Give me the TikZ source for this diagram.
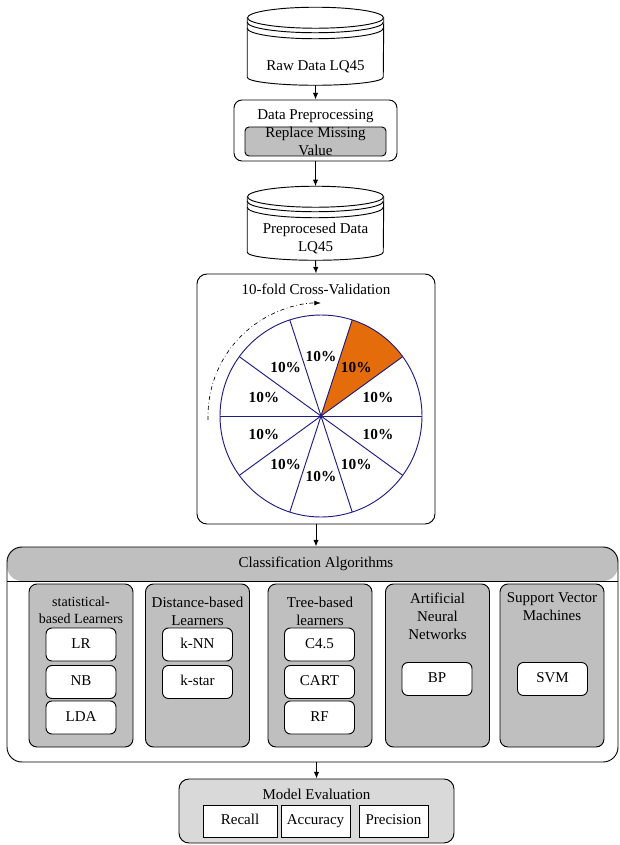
\documentclass[tikz,border=0pt]{standalone}
\usepackage{fontspec}
\setmainfont{Liberation Serif}
\usetikzlibrary{arrows.meta}

\definecolor{boxgray}{HTML}{BFBFBF}
\definecolor{evalgray}{HTML}{D9D9D9}
\definecolor{pienavy}{HTML}{1C1C82}
\definecolor{pieorange}{HTML}{E46C0A}

\tikzset{
  edgeline/.style={line width=0.7pt},
  flow/.style={line width=0.7pt, -{Latex[length=5pt,width=4pt]}},
  dbbody/.style={minimum width=102pt, inner sep=0pt},
  roundbox/.style={draw, line width=0.7pt, rounded corners=6pt},
  groupbox/.style={roundbox, fill=boxgray, minimum width=78pt, minimum height=122.25pt},
  algobox/.style={roundbox, fill=white, rounded corners=4.5pt, minimum width=52.5pt, minimum height=24.75pt,
    text height=8pt, text depth=2.5pt},
  metricbox/.style={draw, line width=0.7pt, fill=white, minimum height=24pt, text height=8pt, text depth=2.5pt},
  pct/.style={font=\fontsize{11.5}{13.5}\selectfont\bfseries},
  pieline/.style={draw=pienavy, line width=0.7pt},
}

% database drum round a body node
\newcommand\dbdrum[1]{%
  \draw[edgeline, fill=white] (#1.north west) -- (#1.south west)
    arc[start angle=180, end angle=360, x radius=51pt, y radius=6pt]
    -- (#1.north east);
  \draw[edgeline, fill=white] (#1.north) ellipse[x radius=51pt, y radius=7.875pt];
  \draw[edgeline] ([yshift=-3.375pt]#1.north west)
    arc[start angle=180, end angle=360, x radius=51pt, y radius=7.875pt];
  \draw[edgeline] ([yshift=-7.875pt]#1.north west)
    arc[start angle=180, end angle=360, x radius=51pt, y radius=7.875pt];
}

\begin{document}
\begin{tikzpicture}[x=0.75pt, y=-0.75pt, font=\fontsize{11.25}{13.5}\selectfont]
\useasboundingbox (0,0) rectangle (619,845);

% data sources
\node[dbbody, minimum height=44.25pt] (raw) at (315.5,47.5) {};
\dbdrum{raw}
\node (rawtext) at (315.5,67) {Raw Data LQ45};

\node[roundbox, minimum width=122.25pt, minimum height=45.75pt] (prep) at (315.5,130.5) {};
\node (preptitle) at (315.5,116) {Data Preprocessing};
\node[roundbox, fill=boxgray, rounded corners=3pt, minimum width=105.75pt, minimum height=21.75pt] (missing) at (315.5,141.5) {};
\node[align=center, inner sep=0pt] (missingtext) at (315.5,141.5) {Replace Missing\\Value};

\node[dbbody, minimum height=41.25pt] (pre) at (315.5,224.5) {};
\dbdrum{pre}
\node[align=center] (pretext) at (315.5,238.5) {Preprocesed Data\\LQ45};

% cross validation
\node[roundbox, rounded corners=7.5pt, minimum width=178.5pt, minimum height=187.5pt] (cv) at (316,399) {};
\node (cvtitle) at (316,289) {10-fold Cross-Validation};
\begin{scope}[shift={(321,416)}]
  \fill[pieorange] (0,0) -- (36:75.75pt) arc[start angle=36, end angle=72, radius=75.75pt] -- cycle;
  \draw[pieline] (0,0) circle[radius=75.75pt];
  \foreach \a in {0,36,...,324}
    \draw[pieline] (0,0) -- (\a:75.75pt);
  \fill[pienavy] (0,0) circle[radius=1.4pt];
  \foreach \a in {18,54,...,342}
    \node[pct] (pct\a) at (\a:45pt) {10\%};
  \draw[line width=0.5pt, dash dot, -{Latex[length=5pt,width=3.5pt]}] (182:84.75pt)
    arc[start angle=182, end angle=90, radius=84.75pt];
\end{scope}

% classifiers
\node[draw, line width=0.7pt, rounded corners=11.25pt, minimum width=458.25pt, minimum height=161.25pt,
  path picture={
    \fill[boxgray] (path picture bounding box.north west) rectangle ([yshift=-25.5pt]path picture bounding box.north east);
    \draw[edgeline] ([yshift=-25.5pt]path picture bounding box.north west) -- ([yshift=-25.5pt]path picture bounding box.north east);
  }] (algo) at (312.5,654.5) {};
\node (algotitle) at (316,564) {Classification Algorithms};

\node[groupbox] (stat) at (81,665.5) {};
\node[align=center, font=\fontsize{10.5}{12.5}\selectfont] (stattitle) at (81,610) {statistical-\\based Learners};
\node[algobox] (lr) at (81,644.5) {LR};
\node[algobox] (nb) at (81,682) {NB};
\node[algobox] (lda) at (81,717.5) {LDA};

\node[groupbox] (dist) at (197.5,665.5) {};
\node[align=center] (disttitle) at (197.5,611) {Distance-based\\Learners};
\node[algobox] (knn) at (197.5,644.5) {k-NN};
\node[algobox] (kstar) at (197.5,682) {k-star};

\node[groupbox] (tree) at (320,665.5) {};
\node[align=center] (treetitle) at (320,611) {Tree-based\\learners};
\node[algobox] (ctree) at (319.5,644.5) {C4.5};
\node[algobox] (cart) at (319.5,682) {CART};
\node[algobox] (rf) at (319.5,717.5) {RF};

\node[groupbox] (ann) at (437.5,665.5) {};
\node[align=center] (anntitle) at (437.5,616) {Artificial\\Neural\\Networks};
\node[algobox] (bp) at (437,679) {BP};

\node[groupbox] (svmgroup) at (552,665.5) {};
\node[align=center] (svmtitle) at (552,607) {Support Vector\\Machines};
\node[algobox] (svm) at (552.5,679) {SVM};

% evaluation
\node[roundbox, fill=evalgray, rounded corners=7.5pt, minimum width=206.25pt, minimum height=48pt] (eval) at (316.5,811) {};
\node (evaltitle) at (316.5,794) {Model Evaluation};
\node[metricbox, minimum width=55.5pt] (recall) at (240,821) {Recall};
\node[metricbox, minimum width=51.75pt] (accuracy) at (315.5,821) {Accuracy};
\node[metricbox, minimum width=51.75pt] (precision) at (393.5,821) {Precision};

% flow
\draw[flow] ([yshift=-6pt]raw.south) -- (prep.north);
\draw[flow] (prep.south) -- ([yshift=7.875pt]pre.north);
\draw[flow] ([yshift=-6pt]pre.south) -- (cv.north);
\draw[flow] (cv.south) -- (cv.south |- algo.north);
\draw[flow] (eval.north |- algo.south) -- (eval.north);
\end{tikzpicture}
\end{document}
